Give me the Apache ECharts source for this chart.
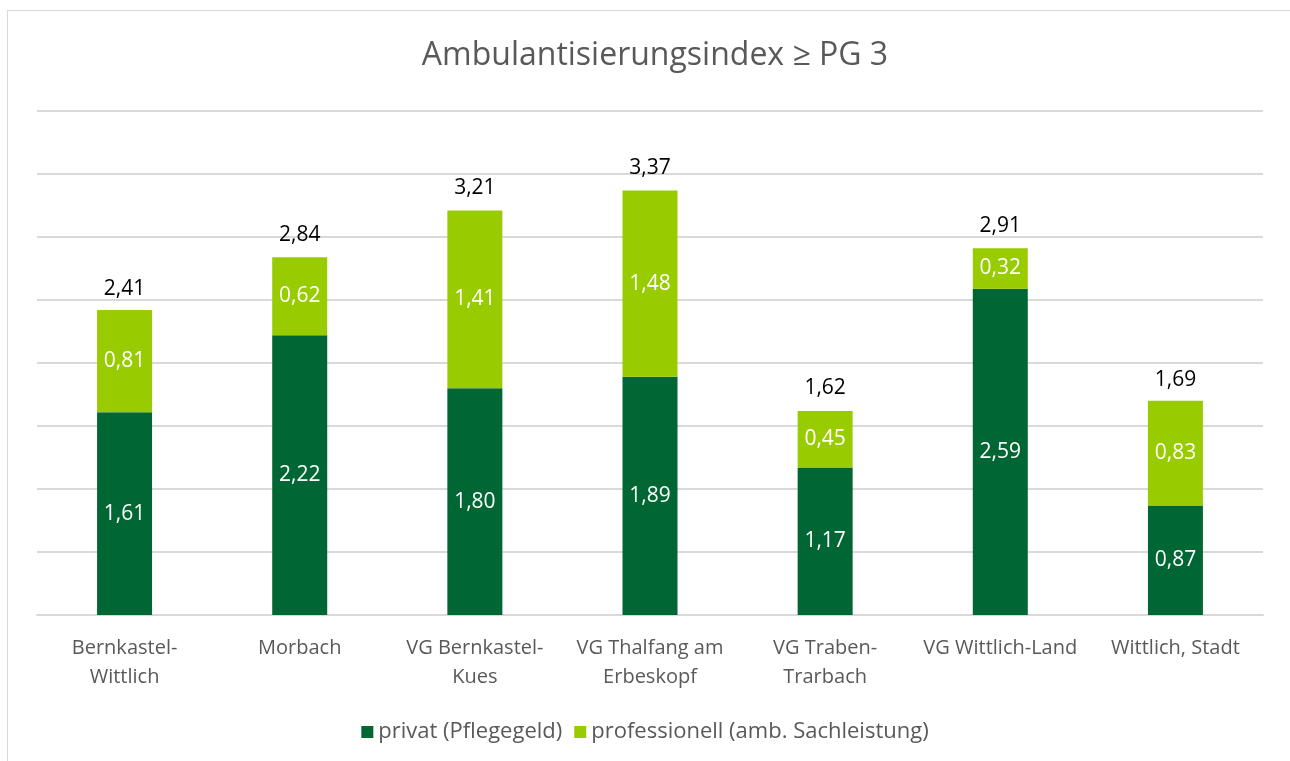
<!DOCTYPE html>
<html>
<head>
<meta charset="utf-8">
<script src="https://cdn.jsdelivr.net/npm/echarts@6/dist/echarts.min.js"></script>
<style>
  html, body { margin: 0; padding: 0; background: #fff; overflow: hidden; }
  #frame { position: absolute; left: 7px; top: 10px; width: 1300px; height: 800px; border: 1px solid #d9d9d9; }
  #chart { position: absolute; left: 0; top: 0; width: 1290px; height: 761px; }
</style>
</head>
<body>
<div id="frame"></div>
<div id="chart"></div>
<script>
const categories = [
  'Bernkastel-\nWittlich',
  'Morbach',
  'VG Bernkastel-\nKues',
  'VG Thalfang am\nErbeskopf',
  'VG Traben-\nTrarbach',
  'VG Wittlich-Land',
  'Wittlich, Stadt'
]
const privat = [1.61, 2.22, 1.80, 1.89, 1.17, 2.59, 0.87]
const professionell = [0.81, 0.62, 1.41, 1.48, 0.45, 0.32, 0.83]
const totals = [2.41, 2.84, 3.21, 3.37, 1.62, 2.91, 1.69]

const FONT = '"Open Sans", "Noto Sans", sans-serif'
const fmt = v => v.toFixed(2).replace('.', ',')

const chart = echarts.init(document.getElementById('chart'))
chart.setOption({
  animation: false,
  textStyle: { fontFamily: FONT },
  title: {
    text: 'Ambulantisierungsindex ≥ PG 3',
    left: 650,
    textAlign: 'center',
    top: 35,
    textStyle: { fontFamily: FONT, fontSize: 32, fontWeight: 'normal', color: '#595959' }
  },
  legend: {
    data: ['privat (Pflegegeld)', 'professionell (amb. Sachleistung)'],
    left: 'center',
    top: 716,
    itemWidth: 12,
    itemHeight: 12,
    itemGap: 12,
    icon: 'rect',
    textStyle: { fontFamily: FONT, fontSize: 22, color: '#595959' }
  },
  grid: { left: 37, right: 27, top: 111, bottom: 146 },
  xAxis: {
    type: 'category',
    data: categories,
    axisLine: { lineStyle: { color: '#d9d9d9', width: 2 } },
    axisTick: { show: false },
    axisLabel: { color: '#595959', fontSize: 20, lineHeight: 29, margin: 19, interval: 0 }
  },
  yAxis: {
    type: 'value',
    min: 0,
    max: 4,
    interval: 0.5,
    axisLabel: { show: false },
    axisLine: { show: false },
    axisTick: { show: false },
    splitLine: { lineStyle: { color: '#d9d9d9', width: 2 } }
  },
  series: [
    {
      name: 'privat (Pflegegeld)',
      type: 'bar',
      stack: 'a',
      barWidth: 55,
      data: privat,
      itemStyle: { color: '#006633' },
      label: { show: true, position: 'inside', color: '#fff', fontSize: 21, formatter: p => fmt(p.value) }
    },
    {
      name: 'professionell (amb. Sachleistung)',
      type: 'bar',
      stack: 'a',
      barWidth: 55,
      data: professionell,
      itemStyle: { color: '#99cc00' },
      label: { show: true, position: 'inside', color: '#fff', fontSize: 21, formatter: p => fmt(p.value) }
    },
    {
      name: 'Summe',
      type: 'bar',
      barWidth: 55,
      barGap: '-100%',
      z: 1,
      data: totals,
      itemStyle: { color: 'rgba(0,0,0,0)' },
      label: { show: true, position: 'top', distance: 12, color: '#000', fontSize: 21, formatter: p => fmt(p.value) },
      tooltip: { show: false }
    }
  ]
})
</script>
</body>
</html>
